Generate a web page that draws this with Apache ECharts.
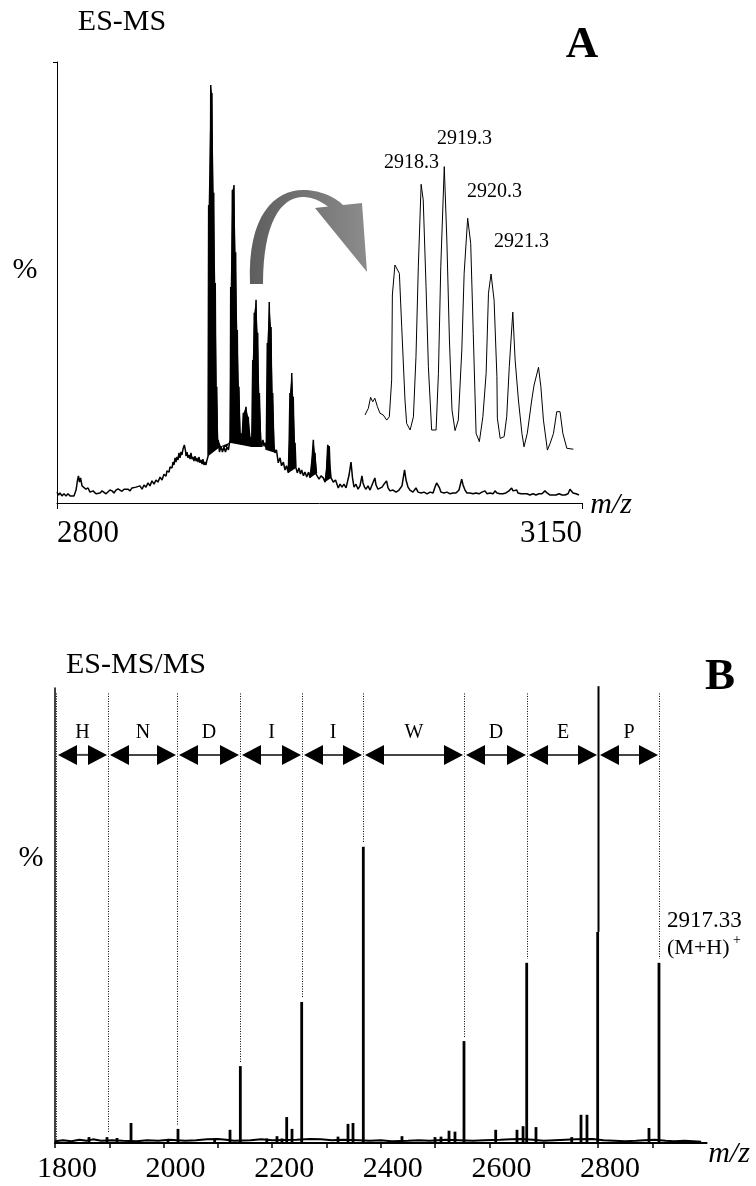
<!DOCTYPE html>
<html>
<head>
<meta charset="utf-8">
<title>ES-MS / ES-MS/MS</title>
<script src="https://cdn.jsdelivr.net/npm/echarts@6/dist/echarts.min.js"></script>
<style>
  html, body { margin: 0; padding: 0; background: #fff; }
  #chart { width: 756px; height: 1186px; }
</style>
</head>
<body>
<div id="chart"></div>
<script>
const FONT = '"Liberation Serif", "Times New Roman", serif';

// ---- panel A : ES-MS full scan (m/z, relative intensity) ----
const specMz = [
  2800.0, 2801.0, 2802.0, 2803.3, 2804.7, 2806.0, 2807.3, 2808.7, 2810.0, 2811.3,
  2812.7, 2813.7, 2814.3, 2815.0, 2815.7, 2816.7, 2818.0, 2819.3, 2820.7, 2822.0,
  2824.0, 2826.0, 2827.3, 2828.7, 2830.0, 2831.3, 2832.7, 2834.0, 2835.3, 2836.7,
  2838.0, 2839.3, 2840.7, 2842.0, 2843.3, 2844.7, 2846.0, 2847.3, 2848.7, 2850.0,
  2851.3, 2852.7, 2854.0, 2855.3, 2856.7, 2858.0, 2859.3, 2860.7, 2862.0, 2863.3,
  2864.7, 2866.0, 2867.3, 2868.7, 2870.0, 2871.3, 2872.7, 2873.3, 2874.7, 2875.3,
  2876.7, 2877.3, 2878.0, 2878.7, 2879.3, 2880.0, 2880.7, 2881.3, 2882.0, 2882.7,
  2883.3, 2884.0, 2884.9, 2885.7, 2886.0, 2886.7, 2887.3, 2888.0, 2888.7, 2889.3,
  2890.0, 2890.7, 2891.3, 2892.0, 2892.7, 2893.3, 2894.0, 2894.7, 2895.3, 2896.0,
  2896.7, 2897.3, 2898.0, 2898.7, 2899.3, 2900.0, 2900.7, 2901.1, 2901.6, 2902.5,
  2902.8, 2903.3, 2903.9, 2904.5, 2905.0, 2905.5, 2906.0, 2906.5, 2907.0, 2907.5,
  2908.3, 2909.3, 2910.3, 2911.3, 2912.3, 2913.3, 2914.3, 2915.0, 2915.5, 2915.8,
  2916.3, 2916.9, 2917.4, 2918.0, 2918.5, 2919.1, 2919.7, 2920.2, 2920.7, 2921.3,
  2921.9, 2922.5, 2923.0, 2923.7, 2924.2, 2924.8, 2925.3, 2926.0, 2926.7, 2927.5,
  2928.3, 2929.1, 2929.8, 2930.5, 2931.0, 2931.5, 2932.1, 2932.7, 2933.2, 2933.8,
  2934.3, 2934.9, 2935.7, 2936.5, 2937.3, 2938.0, 2938.7, 2939.5, 2940.2, 2940.8,
  2941.5, 2942.1, 2942.7, 2943.2, 2943.8, 2944.5, 2945.3, 2946.3, 2947.5, 2948.7,
  2949.7, 2950.9, 2952.0, 2953.0, 2954.2, 2954.8, 2955.3, 2955.9, 2956.5, 2957.0,
  2957.5, 2958.1, 2958.7, 2959.3, 2960.2, 2961.3, 2962.3, 2963.1, 2964.3, 2965.3,
  2966.5, 2967.7, 2968.7, 2970.0, 2970.9, 2971.4, 2972.0, 2972.7, 2973.5, 2974.7,
  2976.0, 2977.5, 2978.7, 2979.7, 2980.5, 2981.0, 2981.5, 2982.0, 2982.7, 2984.2,
  2985.7, 2987.5, 2988.7, 2990.0, 2991.3, 2992.7, 2994.7, 2996.0, 2997.0, 2998.0,
  2999.3, 3000.7, 3002.0, 3003.3, 3004.0, 3005.0, 3006.0, 3007.3, 3008.7, 3010.0,
  3011.9, 3012.7, 3014.0, 3015.3, 3016.7, 3018.0, 3019.7, 3020.7, 3022.0, 3024.0,
  3026.0, 3028.0, 3030.0, 3031.7, 3032.7, 3034.0, 3035.3, 3037.3, 3039.3, 3040.7,
  3042.7, 3044.7, 3046.7, 3048.7, 3050.7, 3052.3, 3053.1, 3054.0, 3055.0, 3056.0,
  3058.0, 3060.0, 3062.0, 3064.0, 3066.0, 3068.0, 3069.8, 3070.7, 3072.0, 3073.3,
  3075.3, 3077.3, 3079.3, 3081.3, 3083.3, 3085.3, 3086.7, 3088.7, 3090.7, 3092.0,
  3093.3, 3095.3, 3097.3, 3099.3, 3101.3, 3103.1, 3104.0, 3105.3, 3106.5, 3107.3,
  3109.3, 3111.3, 3113.3, 3115.3, 3117.3, 3119.3, 3121.3, 3123.3, 3125.3, 3126.7,
  3128.7, 3130.7, 3132.7, 3134.7, 3136.7, 3138.7, 3140.7, 3142.0, 3143.0, 3144.0,
  3146.0, 3148.0
];
const specInt = [
  2.6, 1.9, 2.4, 1.7, 2.2, 1.7, 2.2, 1.7, 1.9, 1.7,
  3.1, 5.5, 6.5, 5.0, 6.0, 4.1, 4.5, 3.3, 3.6, 2.6,
  2.9, 2.2, 1.9, 2.4, 2.9, 2.6, 2.2, 2.6, 3.1, 2.9,
  2.4, 3.1, 3.4, 3.1, 2.8, 3.3, 3.6, 3.3, 2.9, 3.6,
  3.9, 3.8, 3.4, 4.1, 3.3, 4.3, 3.8, 4.8, 4.1, 5.3,
  4.5, 5.5, 5.0, 6.2, 5.5, 6.9, 6.4, 7.7, 7.4, 8.6,
  8.4, 9.8, 9.1, 10.8, 9.8, 11.0, 10.3, 12.0, 10.8, 12.2,
  11.5, 12.9, 13.9, 12.4, 11.2, 12.2, 10.8, 11.5, 10.5, 12.0,
  10.5, 11.0, 10.0, 11.2, 10.0, 10.8, 9.8, 11.0, 9.6, 10.3,
  9.3, 10.5, 9.1, 9.8, 9.1, 10.3, 11.2, 71.3, 15.1, 100.0,
  48.6, 98.1, 29.4, 74.2, 19.9, 52.6, 17.5, 27.8, 13.9, 15.1,
  12.2, 13.6, 12.2, 13.4, 12.2, 13.4, 12.7, 14.4, 15.1, 51.7,
  24.6, 74.9, 41.4, 76.1, 34.2, 60.0, 24.6, 41.4, 17.5, 27.8,
  15.1, 16.7, 13.9, 17.5, 21.5, 15.1, 19.9, 23.0, 16.3, 20.6,
  15.1, 15.8, 13.4, 34.2, 19.9, 45.5, 24.6, 48.6, 27.0, 40.7,
  19.9, 26.3, 15.1, 13.4, 15.1, 13.6, 14.4, 12.7, 38.3, 19.9,
  48.1, 24.6, 42.1, 19.9, 26.3, 13.9, 12.0, 12.7, 9.6, 10.8,
  8.9, 9.8, 7.9, 8.9, 7.2, 15.1, 26.3, 17.5, 31.1, 19.9,
  25.4, 12.7, 14.4, 8.4, 7.2, 8.4, 6.9, 7.9, 6.5, 7.4,
  6.2, 7.4, 6.0, 10.3, 15.1, 9.1, 12.0, 6.9, 7.2, 5.7,
  6.5, 6.0, 5.0, 7.9, 13.9, 7.9, 13.6, 8.6, 6.0, 5.0,
  5.5, 3.6, 4.5, 3.8, 4.5, 3.6, 6.7, 9.8, 6.0, 3.8,
  4.5, 3.3, 4.1, 6.5, 4.8, 3.8, 3.3, 4.1, 3.1, 4.3,
  6.0, 4.3, 3.3, 3.1, 3.8, 4.5, 5.3, 3.6, 2.9, 3.1,
  2.6, 3.1, 4.1, 7.9, 5.5, 3.8, 3.1, 2.6, 3.6, 2.6,
  2.4, 2.6, 2.2, 2.6, 2.4, 4.1, 4.8, 5.0, 3.6, 2.6,
  2.4, 2.6, 2.2, 2.4, 2.4, 3.1, 5.7, 4.3, 3.1, 2.4,
  2.4, 2.2, 2.4, 2.2, 2.6, 2.9, 2.2, 2.4, 2.2, 2.9,
  2.4, 2.2, 2.2, 2.4, 2.9, 3.6, 2.9, 3.3, 3.1, 2.4,
  2.2, 2.2, 2.2, 1.9, 2.2, 1.9, 2.2, 2.2, 2.9, 2.4,
  1.9, 1.9, 1.9, 2.2, 1.9, 1.9, 2.2, 3.3, 3.1, 2.4,
  2.2, 1.9
];
const specTicks = [2800, 3150];
// m/z windows of the unresolved isotope clusters (drawn solid)
const clusterFrom = [2900.7, 2909.3, 2915.0, 2923.0, 2929.8, 2939.5, 2954.2, 2968.7, 2978.7];
const clusterTo = [2909.3, 2915.0, 2923.0, 2929.8, 2936.5, 2945.3, 2959.3, 2973.5, 2982.7];

// ---- panel A inset : isotope cluster ----
const insetMz = [
  2915.90, 2916.04, 2916.14, 2916.23, 2916.32, 2916.43, 2916.54, 2916.68, 2916.83, 2916.94,
  2917.04, 2917.07, 2917.18, 2917.37, 2917.47, 2917.61, 2917.68, 2917.83, 2917.97, 2918.08,
  2918.18, 2918.30, 2918.39, 2918.51, 2918.61, 2918.75, 2918.94, 2919.04, 2919.14, 2919.29,
  2919.40, 2919.51, 2919.62, 2919.75, 2919.89, 2920.04, 2920.14, 2920.29, 2920.42, 2920.53,
  2920.65, 2920.79, 2920.94, 2921.08, 2921.18, 2921.29, 2921.42, 2921.54, 2921.56, 2921.68,
  2921.85, 2921.96, 2922.07, 2922.22, 2922.32, 2922.46, 2922.61, 2922.70, 2922.84, 2923.03,
  2923.13, 2923.32, 2923.42, 2923.53, 2923.70, 2923.82, 2923.96, 2924.10, 2924.24, 2924.36,
  2924.53, 2924.81
];
const insetInt = [
  15.0, 17.2, 20.9, 19.4, 20.6, 17.8, 15.6, 15.0, 13.3, 14.4,
  26.7, 55.0, 65.0, 62.2, 44.4, 20.0, 12.2, 10.0, 14.4, 34.4,
  64.4, 91.9, 86.7, 57.8, 31.1, 10.0, 10.0, 28.9, 64.4, 97.8,
  73.3, 40.0, 16.7, 9.8, 13.3, 36.7, 62.2, 80.6, 72.2, 42.2,
  8.9, 6.1, 14.4, 28.9, 55.6, 62.0, 53.3, 27.8, 13.9, 7.2,
  7.8, 14.4, 31.1, 49.3, 33.3, 20.0, 8.9, 4.4, 8.9, 20.0,
  25.0, 30.9, 24.4, 13.3, 3.3, 5.6, 8.9, 16.1, 16.1, 8.9,
  3.9, 3.6
];
const insetLabels = ['2918.3', '2919.3', '2920.3', '2921.3'];

// ---- panel B : ES-MS/MS fragment peaks ----
const msmsMz = [
  1862.6, 1895.8, 1914.2, 1940.0, 2008.0, 2026.5, 2094.0, 2122.3, 2141.3, 2190.0,
  2208.8, 2218.0, 2226.7, 2236.5, 2254.3, 2321.2, 2339.6, 2348.8, 2367.8, 2439.0,
  2499.8, 2510.9, 2525.6, 2536.6, 2553.2, 2611.6, 2650.8, 2662.0, 2668.7, 2685.8,
  2751.6, 2768.7, 2779.7, 2799.4, 2893.9, 2912.3
];
const msmsInt = [
  1.3, 1.3, 1.1, 4.4, 0.9, 3.1, 1.0, 2.9, 16.9, 1.0,
  1.5, 1.0, 5.7, 3.1, 31.0, 1.4, 4.2, 4.4, 65.1, 1.5,
  1.3, 1.4, 2.7, 2.5, 22.4, 2.9, 2.9, 3.7, 39.6, 3.5,
  1.3, 6.2, 6.2, 46.4, 3.3, 39.6
];
const baseMz = [
  1800, 1815, 1830, 1845, 1858, 1870, 1885, 1905, 1925, 1950,
  1970, 1990, 2010, 2040, 2060, 2080, 2100, 2115, 2130, 2160,
  2180, 2200, 2245, 2270, 2290, 2310, 2330, 2360, 2380, 2400,
  2420, 2450, 2470, 2490, 2520, 2545, 2570, 2590, 2620, 2640,
  2660, 2680, 2700, 2720, 2740, 2760, 2790, 2810, 2830, 2850,
  2870, 2885, 2905, 2925, 2940, 2960, 2975, 2990
];
const baseInt = [
  0.4, 0.6, 0.4, 0.7, 0.5, 0.8, 0.5, 0.6, 0.5, 0.4,
  0.6, 0.5, 0.7, 0.5, 0.6, 0.8, 0.9, 0.7, 0.5, 0.6,
  0.8, 0.6, 0.7, 0.9, 0.8, 0.6, 0.7, 0.6, 0.5, 0.6,
  0.4, 0.5, 0.6, 0.5, 0.7, 0.6, 0.5, 0.6, 0.7, 0.8,
  0.9, 0.7, 0.5, 0.6, 0.7, 0.8, 0.9, 0.6, 0.5, 0.4,
  0.5, 0.6, 0.7, 0.5, 0.4, 0.5, 0.4, 0.3
];
const msmsTicks = [1800, 1900, 2000, 2100, 2200, 2300, 2400, 2500, 2600, 2700, 2800, 2900];
const msmsLabels = [1800, 2000, 2200, 2400, 2600, 2800];

// sequence ladder: boundaries (m/z) and residues read between them
const ladderMz = [1802, 1897, 2024, 2141.3, 2254.3, 2367.8, 2553.2, 2668.7, 2799.4, 2912.3];
const residues = ['H', 'N', 'D', 'I', 'I', 'W', 'D', 'E', 'P'];
const solidIndex = 8;

const dotTop = 98.8;
const arrowLevel = 85.3;
const letterLevel = 90.1;

function zip(a, b) {
  return a.map((v, i) => [v, b[i]]);
}

function floorAt(mz) {
  let best = 0;
  let dist = 3;
  msmsMz.forEach((m, i) => {
    if (Math.abs(m - mz) <= dist) {
      dist = Math.abs(m - mz);
      best = msmsInt[i];
    }
  });
  return best;
}

// fill the envelope of one isotope cluster (its local maxima, closed at the ends)
function renderCluster(params, api) {
  const i = params.dataIndex;
  const idx = [];
  specMz.forEach((m, k) => {
    if (m >= clusterFrom[i] && m <= clusterTo[i]) idx.push(k);
  });
  const pts = [];
  idx.forEach((k, j) => {
    const isEnd = j === 0 || j === idx.length - 1;
    const isPeak = specInt[k] >= specInt[k - 1] && specInt[k] >= specInt[k + 1];
    if (isEnd || isPeak) pts.push(api.coord([specMz[k], specInt[k]]));
  });
  return { type: 'polygon', shape: { points: pts }, style: { fill: '#000' } };
}

function renderLadder(params, api) {
  const i = params.dataIndex;
  const mz = api.value(0);
  const x = Math.round(api.coord([mz, 0])[0]) + 0.5;
  const solid = i === solidIndex;
  const floor = floorAt(mz);
  const yTop = api.coord([mz, solid ? 100.4 : dotTop])[1];
  const yBot = api.coord([mz, floor])[1] - (floor > 0 && !solid ? 4 : 0);
  const kids = [
    {
      type: 'line',
      shape: { x1: x, y1: yTop, x2: x, y2: yBot },
      style: solid ? { stroke: '#000', lineWidth: 2 } : { stroke: '#000', lineWidth: 1, lineDash: [1, 1.5] },
    },
  ];
  if (i < residues.length) {
    const xr = Math.round(api.coord([ladderMz[i + 1], 0])[0]) + 0.5;
    const ya = api.coord([mz, arrowLevel])[1];
    const yl = api.coord([mz, letterLevel])[1];
    const a = x + 1.5;
    const b = xr - 1.5;
    kids.push(
      { type: 'line', shape: { x1: a + 10, y1: ya, x2: b - 10, y2: ya }, style: { stroke: '#444', lineWidth: 2 } },
      { type: 'polygon', shape: { points: [[a, ya], [a + 19, ya - 10], [a + 19, ya + 10]] }, style: { fill: '#000' } },
      { type: 'polygon', shape: { points: [[b, ya], [b - 19, ya - 10], [b - 19, ya + 10]] }, style: { fill: '#000' } },
      {
        type: 'text',
        x: (x + xr) / 2,
        y: yl,
        style: { text: residues[i], font: '20px ' + FONT, fill: '#000', textAlign: 'center', textVerticalAlign: 'middle' },
      }
    );
  }
  return { type: 'group', children: kids };
}

function txt(text, x, y, font, align) {
  return {
    type: 'text',
    x: x,
    y: y,
    style: { text: text, font: font, fill: '#000', textAlign: align || 'center', textVerticalAlign: 'middle' },
  };
}

// sample a chain of cubic bezier segments into polygon points (for the curved arrow)
function bezierChain(start, segs) {
  const pts = [start];
  let p0 = start;
  segs.forEach((s) => {
    if (s.length === 1) {
      pts.push(s[0]);
      p0 = s[0];
      return;
    }
    const [c1, c2, p3] = s;
    for (let k = 1; k <= 16; k++) {
      const t = k / 16;
      const u = 1 - t;
      pts.push([
        u * u * u * p0[0] + 3 * u * u * t * c1[0] + 3 * u * t * t * c2[0] + t * t * t * p3[0],
        u * u * u * p0[1] + 3 * u * u * t * c1[1] + 3 * u * t * t * c2[1] + t * t * t * p3[1],
      ]);
    }
    p0 = p3;
  });
  return pts;
}

const curvedArrow = bezierChain([250, 284], [
  [[247, 215], [275, 190], [303, 190]],
  [[320, 190], [335, 197], [343, 205]],
  [[362, 203]],
  [[367, 272]],
  [[315, 208]],
  [[328, 206.6]],
  [[318, 199], [310, 197], [302, 197]],
  [[281, 198], [263, 222], [263, 284]],
]);

const axisBlack = { color: '#000' };
const plainNumber = (v) => String(v);

const option = {
  backgroundColor: '#fff',
  animation: false,
  grid: [
    { left: 57, top: 62, width: 525, height: 441, outerBoundsMode: 'none' },
    { left: 365, top: 160, width: 208.6, height: 300, outerBoundsMode: 'none' },
    { left: 55, top: 688, width: 651.6, height: 455, outerBoundsMode: 'none' },
  ],
  xAxis: [
    {
      type: 'value',
      gridIndex: 0,
      min: 2800,
      max: 3150,
      splitLine: { show: false },
      axisLine: { show: true, onZero: false, lineStyle: { color: '#000', width: 1 } },
      axisTick: { show: true, customValues: specTicks, length: 6, lineStyle: axisBlack },
      axisLabel: {
        customValues: specTicks,
        formatter: plainNumber,
        fontFamily: FONT,
        fontSize: 31,
        color: '#000',
        margin: 15,
        alignMinLabel: 'left',
        alignMaxLabel: 'right',
      },
    },
    { type: 'value', gridIndex: 1, min: 2915.9, max: 2924.82, show: false },
    {
      type: 'value',
      gridIndex: 2,
      min: 1800,
      max: 3000,
      splitLine: { show: false },
      axisLine: { show: true, onZero: false, lineStyle: { color: '#000', width: 2 } },
      axisTick: { show: true, customValues: msmsTicks, length: 5, lineStyle: { color: '#000', width: 1.5 } },
      axisLabel: {
        customValues: msmsLabels,
        formatter: plainNumber,
        fontFamily: FONT,
        fontSize: 30,
        color: '#000',
        margin: 11,
        padding: [0, 0, 0, 24],
      },
    },
  ],
  yAxis: [
    {
      type: 'value',
      gridIndex: 0,
      min: 0,
      max: 105.5,
      splitLine: { show: false },
      axisLine: { show: true, lineStyle: { color: '#000', width: 1 } },
      axisTick: { show: true, customValues: [105.5], length: 4, lineStyle: axisBlack },
      axisLabel: { show: false },
    },
    { type: 'value', gridIndex: 1, min: 0, max: 100, show: false },
    {
      type: 'value',
      gridIndex: 2,
      min: 0,
      max: 100,
      splitLine: { show: false },
      axisLine: { show: true, lineStyle: { color: '#000', width: 1.5 } },
      axisTick: { show: false },
      axisLabel: { show: false },
    },
  ],
  series: [
    {
      name: 'ES-MS',
      type: 'line',
      xAxisIndex: 0,
      yAxisIndex: 0,
      data: zip(specMz, specInt),
      symbol: 'none',
      lineStyle: { color: '#000', width: 1.5 },
    },
    {
      name: 'clusters',
      type: 'custom',
      xAxisIndex: 0,
      yAxisIndex: 0,
      data: clusterFrom.map((m, i) => [m, i]),
      renderItem: renderCluster,
    },
    {
      name: 'isotopes',
      type: 'line',
      xAxisIndex: 1,
      yAxisIndex: 1,
      data: zip(insetMz, insetInt),
      symbol: 'none',
      lineStyle: { color: '#000', width: 1 },
    },
    {
      name: 'baseline',
      type: 'line',
      xAxisIndex: 2,
      yAxisIndex: 2,
      data: zip(baseMz, baseInt),
      symbol: 'none',
      lineStyle: { color: '#000', width: 2 },
    },
    {
      name: 'ES-MS/MS',
      type: 'bar',
      xAxisIndex: 2,
      yAxisIndex: 2,
      data: zip(msmsMz, msmsInt),
      barWidth: 2.8,
      itemStyle: { color: '#000' },
    },
    {
      name: 'ladder',
      type: 'custom',
      xAxisIndex: 2,
      yAxisIndex: 2,
      data: ladderMz.map((m, i) => [m, i]),
      renderItem: renderLadder,
      clip: false,
      z: 3,
    },
  ],
  graphic: [
    txt('ES-MS', 122, 22, '30px ' + FONT),
    txt('A', 582, 45, 'bold 45px ' + FONT),
    txt('%', 25, 270, '30px ' + FONT),
    txt('m/z', 611, 505, 'italic 30px ' + FONT),
    txt(insetLabels[0], 411.5, 163, '20px ' + FONT),
    txt(insetLabels[1], 464.5, 139, '20px ' + FONT),
    txt(insetLabels[2], 494.5, 192, '20px ' + FONT),
    txt(insetLabels[3], 521.5, 242, '20px ' + FONT),
    {
      type: 'polygon',
      shape: { points: curvedArrow },
      style: {
        fill: new echarts.graphic.LinearGradient(0, 0, 1, 0, [
          { offset: 0, color: '#5e5e5e' },
          { offset: 1, color: '#8c8c8c' },
        ]),
      },
    },
    txt('ES-MS/MS', 136, 665, '30px ' + FONT),
    txt('B', 720, 677, 'bold 45px ' + FONT),
    txt('%', 31, 858, '30px ' + FONT),
    txt('m/z', 729, 1154, 'italic 30px ' + FONT),
    txt('2917.33', 667, 921, '23px ' + FONT, 'left'),
    txt('(M+H)', 667, 948, '22px ' + FONT, 'left'),
    txt('+', 733, 940, '14px ' + FONT, 'left'),
  ],
};

const chart = echarts.init(document.getElementById('chart'));
chart.setOption(option);
window.addEventListener('resize', () => chart.resize());
</script>
</body>
</html>
